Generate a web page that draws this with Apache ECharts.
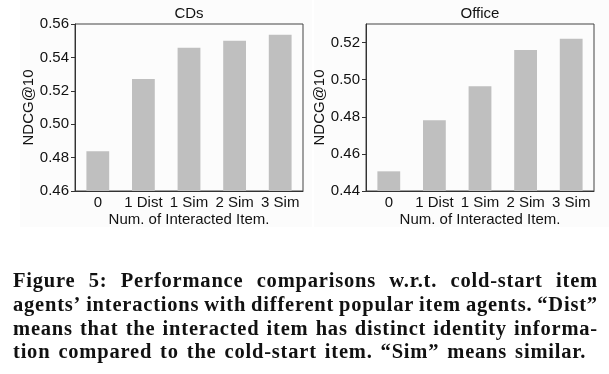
<!DOCTYPE html>
<html>
<head>
<meta charset="utf-8">
<script src="https://cdn.jsdelivr.net/npm/echarts@6/dist/echarts.min.js"></script>
<style>
  html, body { margin: 0; padding: 0; background: #fff; }
  #wrap { position: relative; width: 609px; height: 374px; overflow: hidden; }
  #chart { position: absolute; left: 0; top: 0; width: 609px; height: 374px; }
  #caption { position: absolute; left: 13px; top: 269px; width: 585px;
    font-family: "Liberation Serif", serif; font-weight: bold; font-size: 20.5px;
    letter-spacing: 0.8px; line-height: 23.8px; color: #111; }
  #caption .line { display: flex; white-space: nowrap; height: 23.8px; }
  #caption .j { justify-content: space-between; }
  #caption .l { justify-content: flex-start; gap: 8px; }
</style>
</head>
<body>
<div id="wrap">
  <div id="chart"></div>
  <div id="caption"></div>
</div>
<script>
const categories = ['0', '1 Dist', '1 Sim', '2 Sim', '3 Sim'];
const cdsValues = [0.4838, 0.527, 0.5458, 0.550, 0.5536];
const officeValues = [0.4506, 0.4781, 0.4965, 0.516, 0.522];
const cdsTicks = [0.46, 0.48, 0.50, 0.52, 0.54, 0.56];
const officeTicks = [0.44, 0.46, 0.48, 0.50, 0.52];
const titles = ['CDs', 'Office'];
const yName = 'NDCG@10';
const xName = 'Num. of Interacted Item.';
const captionLines = [
  'Figure 5: Performance comparisons w.r.t. cold-start item',
  'agents’ interactions with different popular item agents. “Dist”',
  'means that the interacted item has distinct identity informa-',
  'tion compared to the cold-start item. “Sim” means similar.'
];

// caption (real text, justified per line like the reference)
const cap = document.getElementById('caption');
captionLines.forEach((ln, i) => {
  const d = document.createElement('div');
  d.className = 'line ' + (i < captionLines.length - 1 ? 'j' : 'l');
  ln.split(' ').forEach(w => {
    const s = document.createElement('span');
    s.textContent = w;
    d.appendChild(s);
  });
  cap.appendChild(d);
});

const FONT = 'Liberation Sans';
const FS = 15;
const TXT = '#111';
const grids = [
  { left: 75, top: 24, width: 228, height: 167 },
  { left: 366, top: 24, width: 228, height: 167 }
];

function xAxisCfg(i) {
  return {
    type: 'category', gridIndex: i, data: categories,
    boundaryGap: true,
    axisLine: { lineStyle: { color: '#333', width: 1 } },
    axisTick: { show: false },
    axisLabel: { fontFamily: FONT, fontSize: FS, color: TXT, margin: 4, interval: 0 },
    name: xName, nameLocation: 'middle', nameGap: 21,
    nameTextStyle: { fontFamily: FONT, fontSize: FS, color: TXT }
  };
}
function yAxisCfg(i, min, max, ticks) {
  return {
    type: 'value', gridIndex: i, min: min, max: max, interval: 0.02,
    axisLine: { show: true, lineStyle: { color: '#333', width: 1 } },
    axisTick: { show: true, length: 4, lineStyle: { color: '#333' }, customValues: ticks },
    axisLabel: { fontFamily: FONT, fontSize: FS, color: TXT, margin: 6,
      customValues: ticks, formatter: v => Number(v).toFixed(2) },
    splitLine: { show: false },
    name: yName, nameLocation: 'middle', nameGap: 35, nameRotate: 90,
    nameTextStyle: { fontFamily: FONT, fontSize: FS, color: TXT }
  };
}

const chart = echarts.init(document.getElementById('chart'), null, { renderer: 'canvas' });
chart.setOption({
  animation: false,
  backgroundColor: '#fff',
  graphic: [
    { type: 'rect', z: -10, shape: { x: 20, y: 0, width: 292, height: 227 }, style: { fill: '#fcfcfc' } },
    { type: 'rect', z: -10, shape: { x: 314, y: 0, width: 295, height: 227 }, style: { fill: '#fcfcfc' } },
    { type: 'text', x: 189, y: 6, style: { text: titles[0], font: FS + 'px ' + FONT, fill: TXT, align: 'center', verticalAlign: 'top' } },
    { type: 'text', x: 480, y: 6, style: { text: titles[1], font: FS + 'px ' + FONT, fill: TXT, align: 'center', verticalAlign: 'top' } }
  ],
  grid: grids.map(g => Object.assign({ show: true, borderColor: '#444', borderWidth: 1, backgroundColor: 'transparent' }, g)),
  xAxis: [xAxisCfg(0), xAxisCfg(1)],
  yAxis: [yAxisCfg(0, 0.46, 0.56, cdsTicks), yAxisCfg(1, 0.44, 0.53, officeTicks)],
  series: [
    { type: 'bar', xAxisIndex: 0, yAxisIndex: 0, data: cdsValues, barWidth: '50%',
      itemStyle: { color: '#bfbfbf' } },
    { type: 'bar', xAxisIndex: 1, yAxisIndex: 1, data: officeValues, barWidth: '50%',
      itemStyle: { color: '#bfbfbf' } }
  ]
});
</script>
</body>
</html>
